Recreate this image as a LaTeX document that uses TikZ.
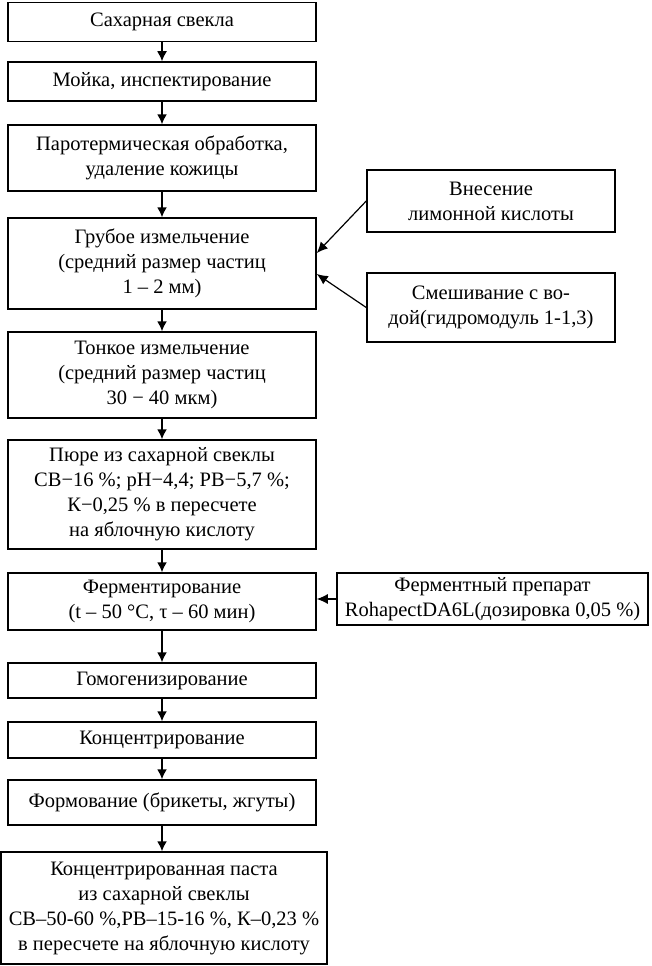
\documentclass[tikz,border=0pt]{standalone}
\usepackage{fontspec}
\setmainfont{Liberation Serif}
\usetikzlibrary{arrows.meta}
\begin{document}
\begin{tikzpicture}[x=1pt,y=-1pt,
  box/.style={draw,line width=1.5pt,rectangle,align=center,inner sep=0pt,
    font=\fontsize{20.5}{25}\selectfont},
  arr/.style={line width=1.5pt,-{Latex[length=10pt,width=10pt]}},
  sidearr/.style={line width=1.2pt,-{Latex[length=11pt,width=10pt]}}]
\useasboundingbox (0,0) rectangle (651,966);
\node[box,minimum width=308pt,minimum height=39pt] (b1) at (162,22) {Сахарная свекла};
\node[box,minimum width=308pt,minimum height=39pt] (b2) at (162,81.5) {Мойка, инспектирование};
\node[box,minimum width=308pt,minimum height=66pt] (b3) at (162,158) {Паротермическая обработка,\\удаление кожицы};
\node[box,minimum width=308pt,minimum height=91pt] (b4) at (162,263.5) {Грубое измельчение\\(средний размер частиц\\1 – 2 мм)};
\node[box,minimum width=308pt,minimum height=86pt] (b5) at (162,375) {Тонкое измельчение\\(средний размер частиц\\30 − 40 мкм)};
\node[box,minimum width=308pt,minimum height=109pt] (b6) at (162,494.5) {Пюре из сахарной свеклы\\СВ−16 \%; pH−4,4; РВ−5,7 \%;\\К−0,25 \% в пересчете\\на яблочную кислоту};
\node[box,minimum width=308pt,minimum height=57pt] (b7) at (162,601.5) {Ферментирование\\(t – 50 °С, τ – 60 мин)};
\node[box,minimum width=308pt,minimum height=35pt] (b8) at (162,680.5) {Гомогенизирование};
\node[box,minimum width=308pt,minimum height=36pt] (b9) at (162,740) {Концентрирование};
\node[box,minimum width=308pt,minimum height=45pt] (b10) at (162,802.5) {Формование (брикеты, жгуты)};
\node[box,minimum width=326pt,minimum height=112pt] (b11) at (164,908) {Концентрированная паста\\из сахарной свеклы\\СВ–50-60 \%,РВ–15-16 \%, К–0,23 \%\\в пересчете на яблочную кислоту};
\node[box,minimum width=248pt,minimum height=62pt] (r1) at (491,201) {Внесение\\лимонной кислоты};
\node[box,minimum width=248pt,minimum height=69pt] (r2) at (491,307.5) {Смешивание с во-\\дой(гидромодуль 1-1,3)};
\node[box,minimum width=311pt,minimum height=52pt] (r3) at (492.5,599) {Ферментный препарат\\RohapectDA6L(дозировка 0,05 \%)};
\foreach \a/\b in {b1/b2,b2/b3,b3/b4,b4/b5,b5/b6,b6/b7,b7/b8,b8/b9,b9/b10}
  \draw[arr] (\a.south) -- (\b.north);
\draw[arr] (b10.south) -- (b10.south |- b11.north);
\draw[sidearr] (r1.west) -- ([yshift=10.5pt]b4.east);
\draw[sidearr] (r2.west) -- ([yshift=-10.5pt]b4.east);
\draw[sidearr] (r3.west) -- (r3.west -| b7.east);
\end{tikzpicture}
\end{document}
